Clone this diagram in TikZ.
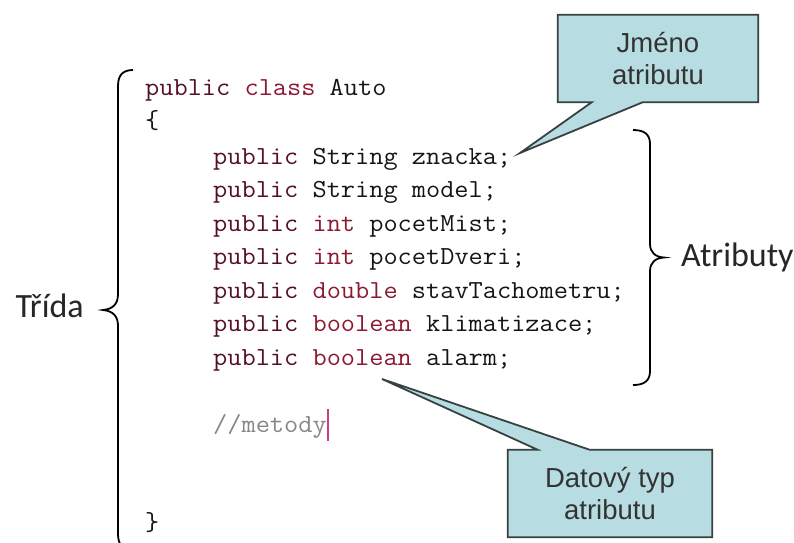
\documentclass[tikz,border=0pt]{standalone}
\usepackage{fontspec}
\usetikzlibrary{backgrounds,calc}
\newfontfamily\labelfont{Carlito}
\newfontfamily\calloutfont{Liberation Sans}
\newcommand{\codefont}{\ttfamily\addfontfeatures{FakeBold=0.8}}
\definecolor{kwpublic}{RGB}{85,15,40}
\definecolor{kwtype}{RGB}{140,25,50}
\definecolor{codeblack}{RGB}{25,20,20}
\definecolor{commentgray}{RGB}{135,135,135}
\definecolor{cursorpink}{RGB}{205,60,130}
\definecolor{calloutfill}{RGB}{183,221,226}
\definecolor{calloutedge}{RGB}{55,65,65}
\newcommand{\kwp}[1]{\textcolor{kwpublic}{#1}}
\newcommand{\kwt}[1]{\textcolor{kwtype}{#1}}
\tikzset{
  codeline/.style={font=\codefont\fontsize{26}{30}\selectfont, anchor=base west,
    inner sep=0pt, text=codeblack, xscale=1.06},
  bigword/.style={font=\labelfont\fontsize{34}{40}\selectfont, inner sep=0pt, text=black!85},
  calloutbox/.style={font=\calloutfont\fontsize{27.5}{32}\selectfont, align=center,
    minimum width=200pt, minimum height=87pt, inner sep=0pt, text=black!80},
  calloutshape/.style={fill=calloutfill, draw=calloutedge, line width=1.8pt, line join=miter},
  bracket/.style={draw=black, line width=1.8pt}
}
\begin{document}
\begin{tikzpicture}[x=1pt,y=1pt]
\useasboundingbox (0,0) rectangle (794,-542);

% --- class source code ---
\node[codeline] (cls) at (145,-95) {\kwp{public} \kwt{class} Auto};
\node[codeline] (ob) at (145,-128.5) {\{};
\node[codeline] (f1) at (213,-164) {\kwp{public} String znacka;};
\node[codeline] (f2) at (213,-197.5) {\kwp{public} String model;};
\node[codeline] (f3) at (213,-231) {\kwp{public} \kwt{int} pocetMist;};
\node[codeline] (f4) at (213,-264.5) {\kwp{public} \kwt{int} pocetDveri;};
\node[codeline] (f5) at (213,-298) {\kwp{public} \kwt{double} stavTachometru;};
\node[codeline] (f6) at (213,-331.5) {\kwp{public} \kwt{boolean} klimatizace;};
\node[codeline] (f7) at (213,-365) {\kwp{public} \kwt{boolean} alarm;};
\node[codeline, text=commentgray] (met) at (213,-432) {//metody};
\node[codeline] (cb) at (145,-530) {\}};
% text cursor after the comment
\draw[cursorpink, line width=1.5pt] ($(met.base east)+(1,23)$) -- ($(met.base east)+(1,-9)$);

% --- left brace: whole class ---
\draw[bracket] (133,-70) .. controls (123,-70) and (118,-75) .. (118,-86)
  -- (118,-294) .. controls (118,-304) and (113,-309) .. (103,-310)
  .. controls (113,-311) and (118,-316) .. (118,-326)
  -- (118,-534) .. controls (118,-545) and (123,-550) .. (133,-550);
\node[bigword, anchor=base east] (trida) at (84,-317) {Třída};

% --- right brace: attributes ---
\draw[bracket] (633,-130) .. controls (644,-130) and (650,-134) .. (650,-144)
  -- (650,-244) .. controls (650,-252) and (655,-257) .. (664,-257.5)
  .. controls (655,-258) and (650,-263) .. (650,-271)
  -- (650,-371) .. controls (650,-381) and (644,-385) .. (633,-385);
\node[bigword, anchor=base west] (atr) at (681,-266) {Atributy};

% --- callout: attribute name ---
\node[calloutbox] (jm) at (658,-58.5) {Jméno\\atributu};
\coordinate (tipA) at (520,-153);
\begin{pgfonlayer}{background}
\draw[calloutshape] (jm.north west) -- (jm.north east) -- (jm.south east)
  -- ($(jm.south west)+(85,0)$) -- (tipA) -- ($(jm.south west)+(34,0)$)
  -- (jm.south west) -- cycle;
\end{pgfonlayer}

% --- callout: attribute data type ---
\node[calloutbox, minimum width=204pt] (dt) at (610,-493.5) {Datový typ\\atributu};
\coordinate (tipB) at (382,-379);
\begin{pgfonlayer}{background}
\draw[calloutshape] (dt.south west) -- (dt.north west)
  -- ($(dt.north west)+(30,0)$) -- (tipB) -- ($(dt.north west)+(82,0)$)
  -- (dt.north east) -- (dt.south east) -- cycle;
\end{pgfonlayer}
\end{tikzpicture}
\end{document}
